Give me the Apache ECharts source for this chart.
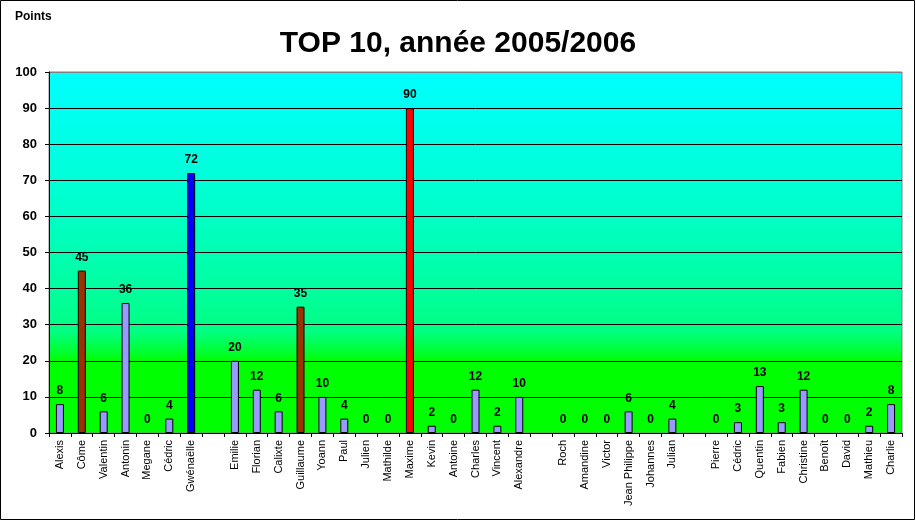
<!DOCTYPE html>
<html>
<head>
<meta charset="utf-8">
<script src="https://cdn.jsdelivr.net/npm/echarts@6/dist/echarts.min.js"></script>
<style>
  html, body { margin: 0; padding: 0; background: #fff; }
  #chart { width: 916px; height: 521px; }
</style>
</head>
<body>
<div id="chart"></div>
<script>
// noms des élèves (les '' sont les séparations entre groupes)
const names = [
  "Alexis", "Côme", "Valentin", "Antonin", "Megane", "Cédric", "Gwénaëlle",
  "",
  "Emilie", "Florian", "Calixte", "Guillaume", "Yoann", "Paul", "Julien", "Mathilde",
  "Maxime", "Kevin", "Antoine", "Charles", "Vincent", "Alexandre",
  "",
  "Roch", "Amandine", "Victor", "Jean Philippe", "Johannes", "Julian",
  "",
  "Pierre", "Cédric", "Quentin", "Fabien", "Christine", "Benoît", "David", "Mathieu", "Charlie"
];
// points (null = pas de barre)
const points = [
  8, 45, 6, 36, 0, 4, 72,
  null,
  20, 12, 6, 35, 10, 4, 0, 0,
  90, 2, 0, 12, 2, 10,
  null,
  0, 0, 0, 6, 0, 4,
  null,
  0, 3, 13, 3, 12, 0, 0, 2, 8
];
const yTicks = [0, 10, 20, 30, 40, 50, 60, 70, 80, 90, 100];

// couleurs particulières (index -> couleur)
const specialColors = { 1: "#993300", 6: "#0000ff", 11: "#993300", 16: "#ff0000" };

const font = "Liberation Sans, Arial, sans-serif";
const chart = echarts.init(document.getElementById("chart"));

const barData = points.map((v, i) => ({
  value: v === null ? "-" : v,
  itemStyle: {
    color: specialColors[i] || "#9999ff",
    // pas de trait pour les barres à 0
    borderWidth: v ? 1 : 0
  }
}));

// lignes de grille noires, la dernière (100) grise
const gridColors = yTicks.map((t) => (t === 100 ? "#808080" : "#000000"));

const option = {
  backgroundColor: "#ffffff",
  animation: false,
  title: {
    text: "TOP 10, année 2005/2006",
    left: "center",
    top: 24,
    textStyle: { fontFamily: font, fontSize: 30, fontWeight: "bold", color: "#000" }
  },
  graphic: [
    {
      type: "rect",
      shape: { x: 0.5, y: 0.5, width: 914, height: 519 },
      style: { fill: null, stroke: "#000", lineWidth: 1 },
      silent: true
    },
    {
      type: "text",
      left: 15,
      top: 11,
      style: { text: "Points", fontFamily: font, fontSize: 12, fontWeight: "bold", fill: "#000" }
    }
  ],
  grid: {
    left: 49,
    right: 14,
    top: 72,
    bottom: 88,
    show: true,
    borderColor: "#808080",
    borderWidth: 1,
    backgroundColor: new echarts.graphic.LinearGradient(0, 0, 0, 1, [
      { offset: 0, color: "#00ffff" },
      { offset: 0.3, color: "#00ffd8" },
      { offset: 0.6, color: "#00ffa0" },
      { offset: 0.72, color: "#00ff80" },
      { offset: 0.78, color: "#00ff28" },
      { offset: 0.8, color: "#00ff00" },
      { offset: 1, color: "#00ff00" }
    ])
  },
  xAxis: {
    type: "category",
    data: names,
    boundaryGap: true,
    axisLine: { show: true, lineStyle: { color: "#000", width: 1 } },
    axisTick: { show: true, alignWithLabel: false, interval: 0, length: 4, lineStyle: { color: "#000" } },
    axisLabel: {
      interval: 0,
      rotate: 90,
      margin: 7,
      fontFamily: font,
      fontSize: 11,
      color: "#000"
    },
    splitLine: { show: false }
  },
  yAxis: {
    type: "value",
    min: 0,
    max: 100,
    interval: 10,
    axisLine: { show: true, lineStyle: { color: "#000", width: 1 } },
    axisTick: { show: true, length: 4, lineStyle: { color: "#000" } },
    axisLabel: {
      margin: 12,
      fontFamily: font,
      fontSize: 13,
      fontWeight: "bold",
      color: "#000"
    },
    splitLine: { show: true, lineStyle: { color: gridColors, width: 1 } }
  },
  series: [
    {
      type: "bar",
      data: barData,
      barWidth: 8,
      itemStyle: { borderColor: "#000", borderWidth: 1 },
      label: {
        show: true,
        position: "top",
        distance: 7,
        fontFamily: font,
        fontSize: 12,
        fontWeight: "bold",
        color: "#000"
      }
    }
  ]
};

chart.setOption(option);
</script>
</body>
</html>
